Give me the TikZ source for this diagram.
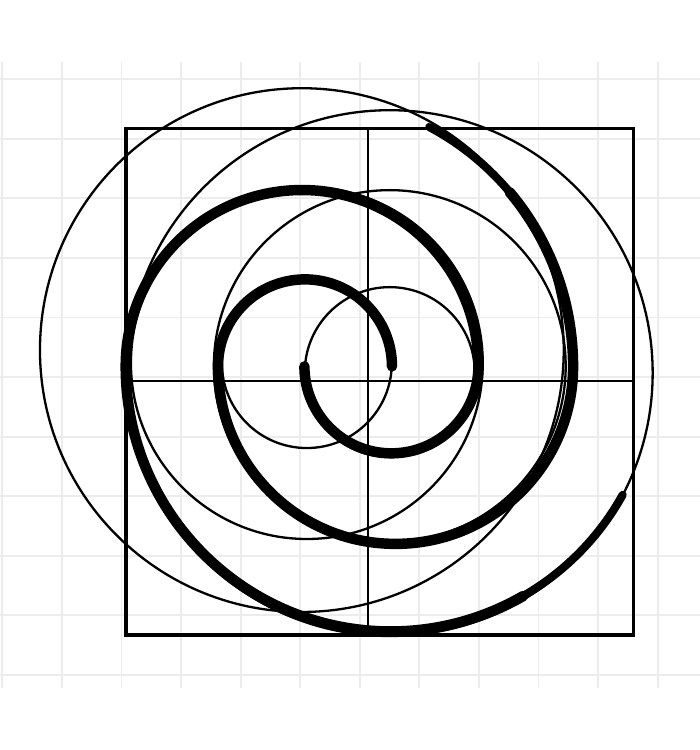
\documentclass[tikz,border=0pt]{standalone}
\usepackage{xcolor}
\tikzset{guide/.style={black, line width=1.1pt},
  spiral/.style={black, line width=5pt, line cap=round},
  spiralend/.style={black, line width=3.9pt, line cap=round}}
\begin{document}
\begin{tikzpicture}
\useasboundingbox (-6.04,-6.26) rectangle (5.705,6.33);
\draw[step=1cm,gray!15,line width=0.9pt] (-6.04,-5.22) grid (5.705,5.29);
% square and cross
\draw[black, line width=1.5pt] (-3.926,-4.329) rectangle (4.597,4.178);
\draw[black, line width=1.2pt] (0.134,-4.329) -- (0.134,4.178);
\draw[black, line width=1.2pt] (-3.926,-0.067) -- (4.597,-0.067);
% guide circles
\draw[guide] (0.503,0.084) circle (1.426);
\draw[guide] (-0.889,0.235) circle (1.426);
\draw[guide] (0.503,0.185) circle (2.953);
\draw[guide] (-0.889,0.235) circle (2.953);
\draw[guide] (0.503,0.067) circle (4.413);
\draw[guide] (-0.973,0.453) circle (4.396);
% first arm
\draw[spiral] (-0.93,0.18) arc[start angle=180,end angle=360,radius=1.46]
  arc[start angle=0,end angle=180,radius=2.96]
  arc[start angle=180,end angle=300,radius=4.45] coordinate (armA);
\draw[spiralend] (armA) arc[start angle=300,end angle=331,radius=4.45];
% second arm
\draw[spiral] (0.54,0.18) arc[start angle=0,end angle=180,radius=1.46]
  arc[start angle=180,end angle=360,radius=2.98]
  arc[start angle=0,end angle=40,radius=4.55] coordinate (armB);
\draw[spiralend] (armB) arc[start angle=40,end angle=62,radius=4.55];
%\filldraw (0.54,0.18) circle (2pt);
\end{tikzpicture}
\end{document}
